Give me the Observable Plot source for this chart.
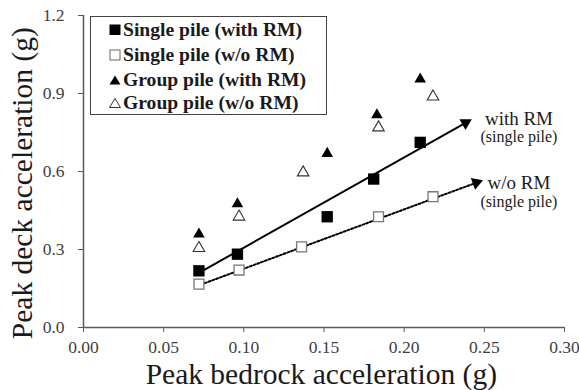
<!DOCTYPE html>
<html>
<head>
<meta charset="utf-8">
<script src="https://cdn.jsdelivr.net/npm/d3@7"></script>
<script src="https://cdn.jsdelivr.net/npm/@observablehq/plot@0.6"></script>
<style>
  html, body { margin: 0; padding: 0; background: #fff; }
  #chart { position: relative; width: 579px; height: 390px; font-family: "Liberation Serif", "Times New Roman", serif; }
  .legend { position: absolute; left: 90px; top: 16px; width: 235px; height: 97px; border: 1.5px solid #444; background: #fff; }
  .legend .row { position: absolute; left: 0; height: 24px; display: flex; align-items: center; font-family: "Liberation Serif", serif; font-weight: bold; font-size: 19.6px; color: #1a1a1a; white-space: nowrap; }
  .legend svg { margin-left: 18px; margin-right: 2px; }
</style>
</head>
<body>
<div id="chart"></div>
<script>
// Peak bedrock acceleration (g) on x, peak deck acceleration (g) on y
const singleWithX = [0.072, 0.096, 0.152, 0.181, 0.210];
const singleWithY = [0.218, 0.282, 0.426, 0.571, 0.712];
const singleWoX   = [0.072, 0.097, 0.136, 0.184, 0.218];
const singleWoY   = [0.167, 0.221, 0.310, 0.426, 0.503];
const groupWithX  = [0.072, 0.096, 0.152, 0.183, 0.210];
const groupWithY  = [0.359, 0.475, 0.669, 0.818, 0.955];
const groupWoX    = [0.072, 0.097, 0.137, 0.184, 0.218];
const groupWoY    = [0.305, 0.426, 0.596, 0.769, 0.888];

// Trend arrows for the single pile: [x1, y1, x2, y2]
const trendWith = [0.072, 0.210, 0.2383, 0.787];
const trendWo   = [0.071, 0.160, 0.2450, 0.557];

// Trend annotations
const noteText = ["with RM", "(single pile)", "w/o RM", "(single pile)"];
const noteX    = [0.2716, 0.2716, 0.2716, 0.2716];
const noteY    = [0.8027, 0.7320, 0.5565, 0.4838];
const noteSize = [19, 16, 19, 16];

const xTicks = [0, 0.05, 0.10, 0.15, 0.20, 0.25, 0.30];
const yTicks = [0, 0.3, 0.6, 0.9, 1.2];

const legendLabels = ["Single pile (with RM)", "Single pile (w/o RM)", "Group pile (with RM)", "Group pile (w/o RM)"];

const W = 579, H = 390, mL = 83, mR = 15, mT = 15, mB = 63;
const xDomain = [0, 0.3], yDomain = [0, 1.2];

const pts = (xs, ys) => xs.map((x, i) => ({x, y: ys[i]}));
const seg = t => [{x: t[0], y: t[1]}, {x: t[2], y: t[3]}];

// rotation (degrees clockwise from up) of a segment in screen space
const kx = (W - mL - mR) / (xDomain[1] - xDomain[0]);
const ky = (H - mT - mB) / (yDomain[1] - yDomain[0]);
const headAngle = t => {
  const vx = (t[2] - t[0]) * kx, vy = -(t[3] - t[1]) * ky;
  return Math.atan2(vx, -vy) * 180 / Math.PI;
};
const heads = [
  {x: trendWith[2], y: trendWith[3], a: headAngle(trendWith)},
  {x: trendWo[2], y: trendWo[3], a: headAngle(trendWo)}
];
const notes = noteText.map((t, i) => ({t, x: noteX[i], y: noteY[i], s: noteSize[i]}));

const axisGray = "#595959";
const font = "'Liberation Serif', 'Times New Roman', serif";

const plot = Plot.plot({
  width: W, height: H,
  marginLeft: mL, marginRight: mR, marginTop: mT, marginBottom: mB,
  style: {fontFamily: font, background: "#fff", overflow: "visible"},
  x: {domain: xDomain},
  y: {domain: yDomain},
  marks: [
    Plot.axisX({ticks: xTicks, tickFormat: d3.format(".2f"), tickSize: 5, tickPadding: 8, fontSize: 17.5, color: "#404040", stroke: axisGray, label: null}),
    Plot.axisY({ticks: yTicks, tickFormat: d3.format(".1f"), tickSize: 5, tickPadding: 14, fontSize: 17.5, color: "#404040", stroke: axisGray, label: null}),
    Plot.ruleY([0], {stroke: axisGray, strokeWidth: 1.5}),
    Plot.ruleX([0], {stroke: axisGray, strokeWidth: 1.5}),
    // trend lines
    Plot.line(seg(trendWith), {x: "x", y: "y", stroke: "#000", strokeWidth: 2}),
    Plot.line(seg(trendWo), {x: "x", y: "y", stroke: "#000", strokeWidth: 2, strokeDasharray: "2 2"}),
    Plot.dot(heads, {x: "x", y: "y", symbol: "triangle", r: 4.6, fill: "#000", stroke: "none", rotate: "a"}),
    // data markers
    Plot.dot(pts(groupWoX, groupWoY), {x: "x", y: "y", symbol: "triangle", r: 4.3, fill: "#fff", stroke: "#333", strokeWidth: 1.1}),
    Plot.dot(pts(groupWithX, groupWithY), {x: "x", y: "y", symbol: "triangle", r: 4.3, fill: "#000", stroke: "none"}),
    Plot.dot(pts(singleWoX, singleWoY), {x: "x", y: "y", symbol: "square", r: 5.6, fill: "#fff", stroke: "#777", strokeWidth: 1.3}),
    Plot.dot(pts(singleWithX, singleWithY), {x: "x", y: "y", symbol: "square", r: 6.4, fill: "#000", stroke: "none"}),
    // annotations
    Plot.text(notes, {x: "x", y: "y", text: "t", fontSize: "s", fill: "#1a1a1a", textAnchor: "middle", lineAnchor: "middle"}),
    // axis titles
    Plot.text(["Peak bedrock acceleration (g)"], {frameAnchor: "bottom", dx: -2.7, dy: 46.7, text: d => d, fontSize: 29.5, fill: "#1a1a1a", textAnchor: "middle", lineAnchor: "middle"}),
    Plot.text(["Peak deck acceleration (g)"], {frameAnchor: "left", dx: -60.6, dy: 11.7, rotate: -90, text: d => d, fontSize: 29.5, fill: "#1a1a1a", textAnchor: "middle", lineAnchor: "middle"})
  ]
});

const chart = document.getElementById("chart");
chart.appendChild(plot);

// legend box
const legend = document.createElement("div");
legend.className = "legend";
const rowTops = [1, 26, 51, 74];
const symbolSvg = [
  '<svg width="12" height="12"><rect x="0.5" y="0.5" width="11" height="10.5" fill="#000"/></svg>',
  '<svg width="12" height="12"><rect x="1" y="1" width="10" height="10" fill="#fff" stroke="#666" stroke-width="1"/></svg>',
  '<svg width="12" height="12"><path d="M6,1.5L11.5,10.5L0.5,10.5Z" fill="#000"/></svg>',
  '<svg width="12" height="12"><path d="M6,1.5L11.5,10.5L0.5,10.5Z" fill="#fff" stroke="#333" stroke-width="1"/></svg>'
];
legendLabels.forEach((lab, i) => {
  const row = document.createElement("div");
  row.className = "row";
  row.style.top = rowTops[i] + "px";
  row.innerHTML = symbolSvg[i];
  const span = document.createElement("span");
  span.textContent = lab;
  row.appendChild(span);
  legend.appendChild(row);
});
chart.appendChild(legend);
</script>
</body>
</html>
